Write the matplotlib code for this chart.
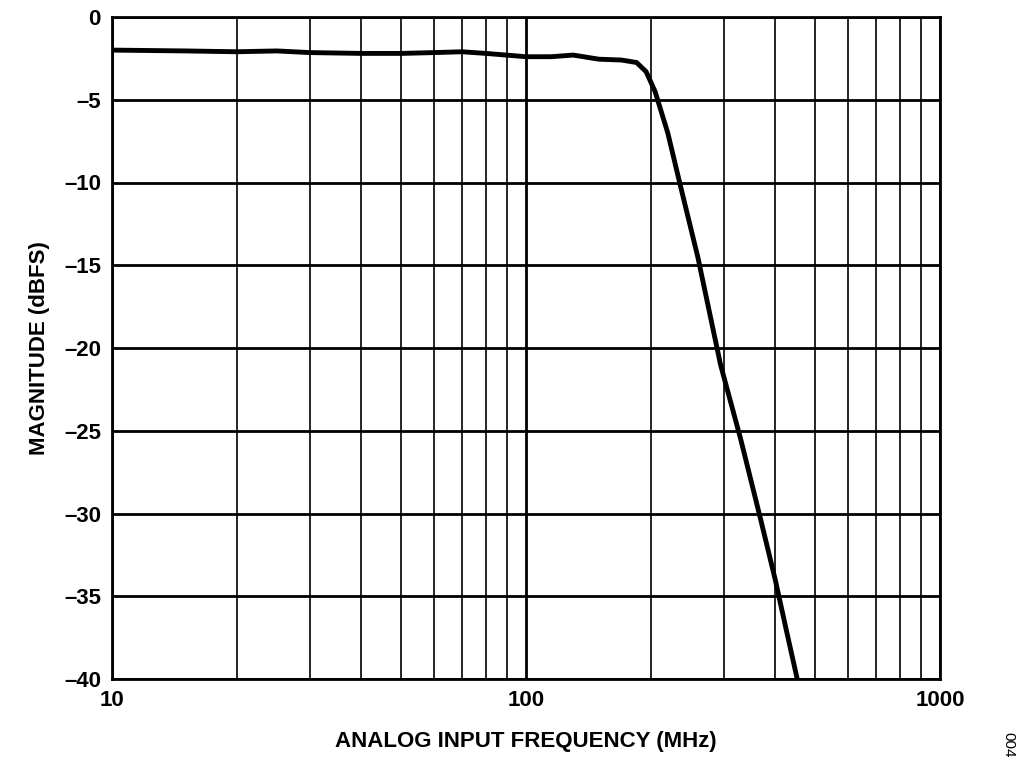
import matplotlib
matplotlib.use("Agg")
import matplotlib.pyplot as plt
import numpy as np

plt.rcParams['font.family'] = ['Liberation Sans', 'DejaVu Sans']

freq = [10, 15, 20, 25, 30, 40, 50, 60, 70, 80, 100, 115, 130, 150, 170, 185, 195, 205, 220, 235, 260, 295, 330, 370, 400, 425, 452]
mag = [-2.0, -2.05, -2.1, -2.05, -2.15, -2.2, -2.2, -2.15, -2.1, -2.2, -2.4, -2.4, -2.3, -2.55, -2.6, -2.75, -3.3, -4.5, -7.0, -10.0, -14.5, -21.0, -25.5, -30.5, -34.0, -37.0, -40.0]
yticks = [0, -5, -10, -15, -20, -25, -30, -35, -40]

fig = plt.figure(figsize=(10.24, 7.76), dpi=100)
ax = fig.add_axes([112/1024, 1-679/776, 828/1024, 662/776])
ax.semilogx(freq, mag, color='black', lw=3.5, zorder=3, solid_joinstyle='round', solid_capstyle='round')
ax.set_xlim(10, 1000)
ax.set_ylim(-40, 0)
ax.set_yticks(yticks)
ax.set_yticklabels([str(v).replace('-', '–') for v in yticks], fontsize=16, fontweight='bold')
ax.set_xticks([10, 100, 1000])
ax.set_xticklabels(['10', '100', '1000'], fontsize=16, fontweight='bold')
ax.xaxis.set_minor_formatter(matplotlib.ticker.NullFormatter())
ax.grid(True, which='major', color='black', lw=2)
ax.grid(True, which='minor', axis='x', color='black', lw=1.2)
ax.tick_params(which='both', length=0, pad=8)
for s in ax.spines.values():
    s.set_linewidth(2)
ax.set_xlabel('ANALOG INPUT FREQUENCY (MHz)', fontsize=16, fontweight='bold', labelpad=14)
ax.set_ylabel('MAGNITUDE (dBFS)', fontsize=16, fontweight='bold', labelpad=10)
fig.text(1008/1024, 1-745/776, '004', rotation=270, fontsize=11, ha='center', va='center')
fig.savefig('out.png', dpi=100)
